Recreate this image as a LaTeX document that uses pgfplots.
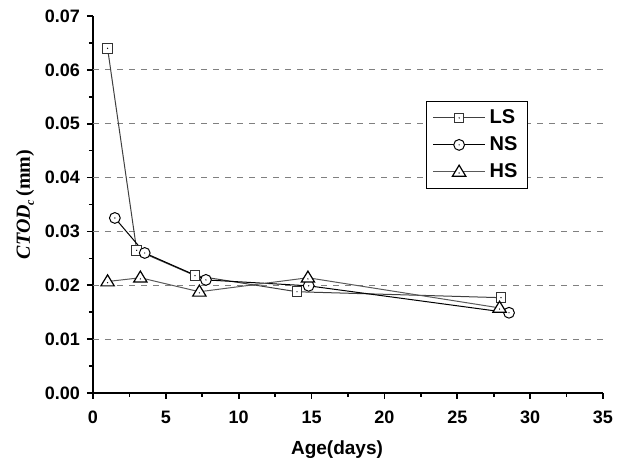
\documentclass[border=0pt]{standalone}
\usepackage{pgfplots}
\pgfplotsset{compat=1.18}
\usepackage{fontspec}
\setmainfont{Liberation Serif}
\setsansfont{Liberation Sans}

% marks with a small dot in the middle, as in the original
\pgfdeclareplotmark{dsquare}{%
  \pgfpathrectangle{\pgfpoint{-\pgfplotmarksize}{-\pgfplotmarksize}}{\pgfpoint{2\pgfplotmarksize}{2\pgfplotmarksize}}%
  \pgfusepathqfillstroke
  \begin{pgfscope}\pgfsetfillcolor{black}\pgfpathcircle{\pgfpointorigin}{0.35pt}\pgfusepathqfill\end{pgfscope}}
\pgfdeclareplotmark{dcircle}{%
  \pgfpathcircle{\pgfpointorigin}{\pgfplotmarksize}\pgfusepathqfillstroke
  \begin{pgfscope}\pgfsetfillcolor{black}\pgfpathcircle{\pgfpointorigin}{0.35pt}\pgfusepathqfill\end{pgfscope}}
\pgfdeclareplotmark{dtriangle}{%
  \pgfpathmoveto{\pgfpoint{0pt}{1.15\pgfplotmarksize}}%
  \pgfpathlineto{\pgfpoint{1.15\pgfplotmarksize}{-0.75\pgfplotmarksize}}%
  \pgfpathlineto{\pgfpoint{-1.15\pgfplotmarksize}{-0.75\pgfplotmarksize}}%
  \pgfpathclose\pgfusepathqfillstroke
  \begin{pgfscope}\pgfsetfillcolor{black}\pgfpathcircle{\pgfpoint{0pt}{-0.2\pgfplotmarksize}}{0.35pt}\pgfusepathqfill\end{pgfscope}}

\begin{document}
\begin{tikzpicture}
\useasboundingbox (-46.5pt,-36pt) rectangle (266.5pt,196.5pt);
\begin{axis}[
    scale only axis,
    width=255pt, height=188.5pt,
    axis lines=left,
    axis line style={line width=1pt, -},
    xmin=0, xmax=35, ymin=0, ymax=0.07,
    xtick={0,5,...,35},
    ytick={0,0.01,...,0.07},
    minor x tick num=1, minor y tick num=1,
    tick align=outside,
    major tick length=3pt, minor tick length=2pt,
    tick style={line width=0.8pt, black},
    /pgf/number format/assume math mode=true,
    tick label style={font=\sffamily\bfseries\fontsize{9}{10}\selectfont},
    xticklabel style={yshift=-2.5pt},
    yticklabel style={/pgf/number format/fixed, /pgf/number format/fixed zerofill, /pgf/number format/precision=2},
    scaled y ticks=false,
    extra y ticks={0.01,0.02,0.03,0.04,0.05,0.06},
    extra y tick labels={},
    extra y tick style={ymajorgrids=true, major tick length=0pt,
        major grid style={dashed, gray, line width=0.5pt}},
    xlabel={\sffamily\bfseries\fontsize{9.5}{11}\selectfont Age(days)},
    ylabel={\fontsize{10}{12}\selectfont\textbf{\textit{CTOD}}\raisebox{-2pt}{\fontsize{6}{7}\selectfont\textbf{\textit{c}}}\,\textbf{(mm)}},
    xlabel style={yshift=-1.5pt, xshift=-5.5pt},
    ylabel style={yshift=-4.5pt},
    clip=false,
    legend style={at={(0.653,0.775)}, anchor=north west, draw=black, line width=0.6pt,
        font=\sffamily\bfseries\fontsize{10}{12}\selectfont,
        row sep=1pt, inner xsep=3pt, inner ysep=2pt},
    legend cell align=left,
    legend image code/.code={%
        \draw[#1, mark repeat=2, mark phase=2] plot coordinates {(0pt,0pt) (13pt,0pt) (26pt,0pt)};},
]
\addplot[black!75, line width=0.5pt, mark=dsquare, mark size=2.4pt,
    mark options={fill=white, draw=black!80, line width=0.5pt}]
    coordinates {(1,0.064) (3,0.0265) (7,0.0218) (14,0.0188) (28,0.0177)};
\addlegendentry{LS}
\addplot[black, line width=0.5pt, mark=dcircle, mark size=2.7pt,
    mark options={fill=white, draw=black, line width=0.5pt}]
    coordinates {(1.5,0.0325) (3.55,0.026) (7.75,0.021) (14.8,0.0199) (28.55,0.0149)};
\addlegendentry{NS}
\addplot[black!65, line width=0.5pt, mark=dtriangle, mark size=2.9pt,
    mark options={fill=white, draw=black, line width=0.6pt}]
    coordinates {(1,0.0207) (3.25,0.0214) (7.3,0.0188) (14.75,0.0214) (27.9,0.0158)};
\addlegendentry{HS}
\end{axis}
\end{tikzpicture}
\end{document}
